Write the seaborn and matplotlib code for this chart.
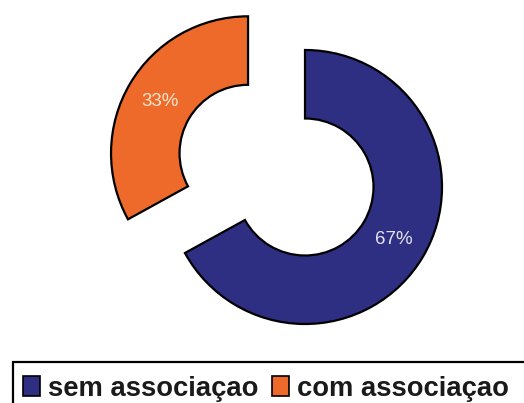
import matplotlib
matplotlib.use("Agg")
import matplotlib.pyplot as plt
import seaborn as sns
from matplotlib.patches import Patch, Rectangle

categories = ["sem associaçao", "com associaçao"]
values = [67, 33]
pct_labels = ["67%", "33%"]
colors = ["#2e2f82", "#ee6a2a"]
label_colors = ["#e4e2f2", "#f8e6cf"]

sns.set_theme(style="white")
plt.rcParams['font.family'] = ['Liberation Sans', 'DejaVu Sans']

W, H, DPI = 524, 403, 100
fig = plt.figure(figsize=(W / DPI, H / DPI), dpi=DPI)
fig.patch.set_facecolor("white")
ax = fig.add_axes([0, 0, 1, 1])

wedges, texts = ax.pie(
    values, colors=colors, startangle=90, counterclock=False,
    explode=[0, 0.483], radius=1,
    wedgeprops=dict(width=0.5, edgecolor="black", linewidth=1.6),
    labels=pct_labels, labeldistance=0.75,
)
for t, c in zip(texts, label_colors):
    t.set_color(c)
    t.set_fontsize(13.5)
    t.set_ha("center")
    t.set_va("center")

R = 137.0  # pixel radius
cx, cy = 305.0, 187.0
ax.set_aspect("equal", adjustable="datalim")
ax.set_xlim(-cx / R, (W - cx) / R)
ax.set_ylim(-(H - cy) / R, cy / R)
ax.axis("off")

# legend box (runs off the right and bottom edges as in the reference)
fig.add_artist(Rectangle((13 / W, -0.05), 1.1, 1.05 - 362 / H,
                         transform=fig.transFigure, facecolor="none",
                         edgecolor="black", linewidth=1.6, clip_on=False))

handles = [Patch(facecolor=c, edgecolor="black", linewidth=1.2) for c in colors]
leg = fig.legend(
    handles, categories, loc="upper left",
    bbox_to_anchor=(13 / W, 1 - 366 / H), bbox_transform=fig.transFigure,
    ncol=2, frameon=False, borderaxespad=0,
    prop=dict(family="Liberation Sans", weight="bold", size=19.7),
    handlelength=0.62, handleheight=0.7, handletextpad=0.3,
    columnspacing=0.5, borderpad=0.35,
)
for txt in leg.get_texts():
    txt.set_color("#1a1a1a")

fig.savefig("out.png", dpi=DPI, facecolor="white")
